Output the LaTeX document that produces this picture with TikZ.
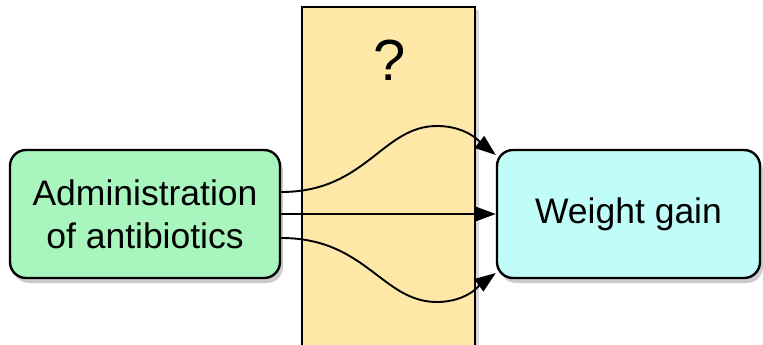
\documentclass[tikz,border=0pt]{standalone}
\usepackage{fontspec}
\setmainfont{Liberation Sans}
\usetikzlibrary{shadows,arrows.meta}
\definecolor{boxgreen}{HTML}{A8F5BE}
\definecolor{boxcyan}{HTML}{C0FCF8}
\definecolor{boxyellow}{HTML}{FDE8A8}
\tikzset{
  roundbox/.style={draw=black, line width=2.4pt, rounded corners=16pt, align=center,
    font=\fontsize{35.5}{43}\selectfont, inner sep=0pt,
    drop shadow={shadow xshift=3pt, shadow yshift=-5pt, opacity=0.4}},
  midbox/.style={draw=black, line width=2pt, fill=boxyellow, inner sep=0pt,
    drop shadow={shadow xshift=4pt, shadow yshift=-3pt, opacity=0.3}},
  link/.style={line width=1.9pt, -{Triangle[length=21pt,width=15pt]}}
}
\begin{document}
\begin{tikzpicture}[x=1pt,y=-1pt]
\useasboundingbox (0,0) rectangle (763,345);
\fill[white] (0,0) rectangle (763,345);
\node[midbox, minimum width=173pt, minimum height=345pt] (mid) at (388.5,180) {};
\node[font=\fontsize{58}{60}\selectfont] (q) at (390,60) {?};
\node[roundbox, fill=boxgreen, minimum width=270pt, minimum height=128pt] (left) at (145,214)
  {Administration\\of antibiotics};
\node[roundbox, fill=boxcyan, minimum width=263pt, minimum height=128pt] (right) at (628.5,214)
  {Weight gain};
\draw[link] ([yshift=22pt]left.east) .. controls +(85,0) and (382,126) .. (437,126)
  .. controls (468,126) and (482,144) .. ([yshift=59pt]right.west);
\draw[link] (left.east) -- (right.west);
\draw[link] ([yshift=-24pt]left.east) .. controls +(85,0) and (382,302) .. (437,302)
  .. controls (468,302) and (482,283) .. ([yshift=-59pt]right.west);
\end{tikzpicture}
\end{document}
